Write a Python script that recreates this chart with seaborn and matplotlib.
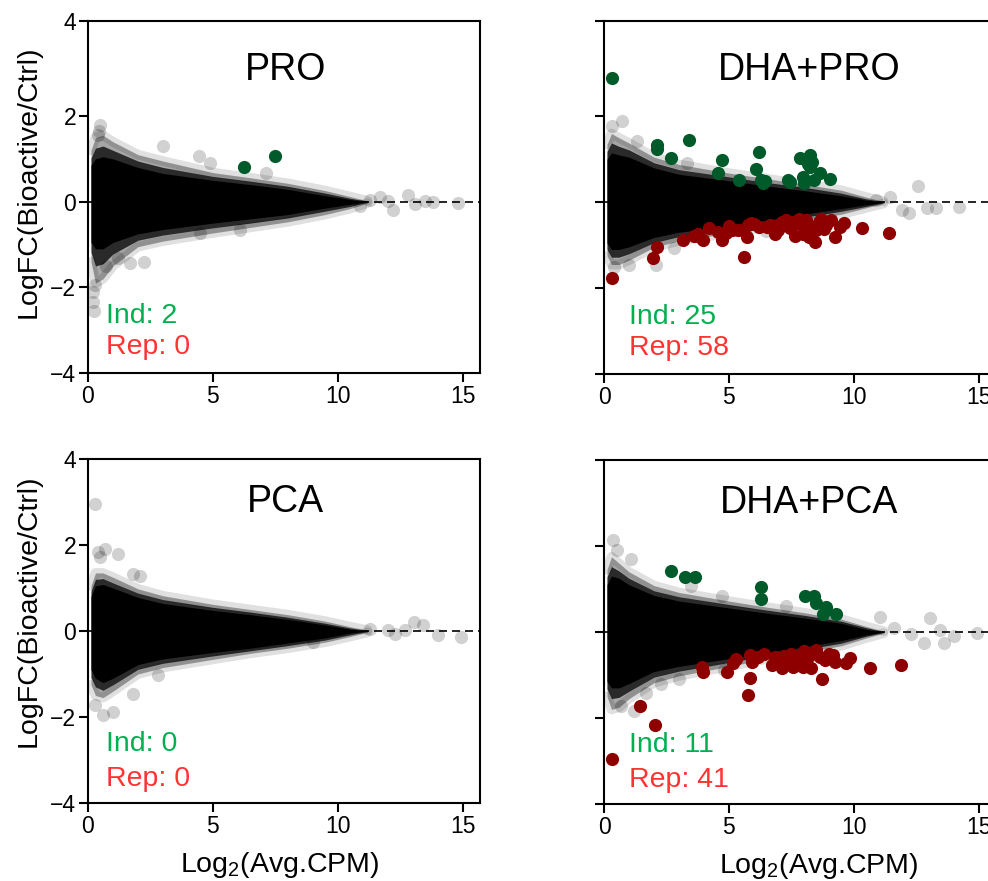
import matplotlib

matplotlib.use("Agg")
import matplotlib.pyplot as plt  # noqa: E402
import matplotlib.transforms as mtransforms  # noqa: E402
import pandas as pd  # noqa: E402
import seaborn as sns  # noqa: E402

# ---- values ---------------------------------------------------------------
PANELS = ["PRO", "DHA+PRO", "PCA", "DHA+PCA"]
IND_COUNTS = [2, 25, 0, 11]
REP_COUNTS = [0, 58, 0, 41]

# outline of the dense gene cloud (edge = faint fringe, mid = dark grey, core = solid)
CLOUD_X = [0.12, 0.3, 0.6, 1.0, 2.0, 3.0, 5.0, 6.5, 8.0, 9.5, 10.5, 11.2]

PRO_EDGE_TOP = [1.2, 1.5, 1.55, 1.4, 1.1, 0.95, 0.68, 0.56, 0.43, 0.26, 0.12, 0.02]
PRO_EDGE_BOT = [-1.4, -1.9, -1.8, -1.5, -1.05, -0.92, -0.73, -0.6, -0.47, -0.3, -0.16, -0.03]
PRO_MID_TOP = [1.02, 1.25, 1.3, 1.2, 0.95, 0.8, 0.59, 0.48, 0.36, 0.2, 0.08, 0.01]
PRO_MID_BOT = [-1.18, -1.5, -1.45, -1.22, -0.9, -0.78, -0.61, -0.5, -0.38, -0.22, -0.11, -0.01]
PRO_CORE_TOP = [0.85, 1.0, 1.05, 1.0, 0.8, 0.66, 0.5, 0.4, 0.29, 0.14, 0.05, 0.0]
PRO_CORE_BOT = [-0.95, -1.1, -1.1, -0.95, -0.75, -0.65, -0.5, -0.4, -0.3, -0.15, -0.06, 0.0]

DPRO_EDGE_TOP = [1.35, 1.6, 1.5, 1.38, 1.05, 0.88, 0.68, 0.55, 0.42, 0.28, 0.12, 0.02]
DPRO_EDGE_BOT = [-1.25, -1.45, -1.45, -1.35, -1.05, -0.9, -0.72, -0.58, -0.42, -0.28, -0.13, -0.03]
DPRO_MID_TOP = [1.18, 1.38, 1.3, 1.22, 0.92, 0.76, 0.59, 0.46, 0.35, 0.21, 0.08, 0.01]
DPRO_MID_BOT = [-1.1, -1.28, -1.28, -1.2, -0.94, -0.8, -0.63, -0.5, -0.35, -0.21, -0.1, -0.01]
DPRO_CORE_TOP = [1.0, 1.15, 1.1, 1.05, 0.8, 0.65, 0.5, 0.38, 0.27, 0.15, 0.05, 0.0]
DPRO_CORE_BOT = [-0.95, -1.1, -1.1, -1.04, -0.82, -0.7, -0.55, -0.42, -0.28, -0.15, -0.06, 0.0]

PCA_EDGE_TOP = [1.05, 1.35, 1.35, 1.25, 0.98, 0.82, 0.62, 0.5, 0.38, 0.23, 0.1, 0.02]
PCA_EDGE_BOT = [-1.25, -1.5, -1.55, -1.4, -1.0, -0.85, -0.66, -0.52, -0.4, -0.26, -0.13, -0.03]
PCA_MID_TOP = [0.92, 1.2, 1.22, 1.12, 0.88, 0.73, 0.55, 0.44, 0.32, 0.18, 0.07, 0.01]
PCA_MID_BOT = [-1.08, -1.3, -1.38, -1.25, -0.89, -0.75, -0.58, -0.46, -0.34, -0.21, -0.09, -0.01]
PCA_CORE_TOP = [0.8, 1.05, 1.08, 1.0, 0.78, 0.64, 0.48, 0.38, 0.27, 0.14, 0.04, 0.0]
PCA_CORE_BOT = [-0.9, -1.1, -1.2, -1.1, -0.78, -0.65, -0.5, -0.4, -0.28, -0.16, -0.05, 0.0]

DPCA_EDGE_TOP = [1.45, 1.75, 1.6, 1.4, 1.08, 0.92, 0.72, 0.58, 0.45, 0.3, 0.13, 0.02]
DPCA_EDGE_BOT = [-1.5, -1.8, -1.75, -1.55, -1.18, -1.02, -0.8, -0.63, -0.48, -0.32, -0.14, -0.03]
DPCA_MID_TOP = [1.28, 1.52, 1.42, 1.25, 0.96, 0.82, 0.64, 0.51, 0.39, 0.25, 0.1, 0.01]
DPCA_MID_BOT = [-1.32, -1.55, -1.52, -1.38, -1.05, -0.91, -0.71, -0.55, -0.41, -0.26, -0.1, -0.01]
DPCA_CORE_TOP = [1.1, 1.3, 1.25, 1.1, 0.85, 0.72, 0.56, 0.44, 0.33, 0.2, 0.06, 0.0]
DPCA_CORE_BOT = [-1.15, -1.3, -1.3, -1.2, -0.92, -0.8, -0.62, -0.48, -0.35, -0.2, -0.07, 0.0]

# scattered grey genes outside the cloud
PRO_GREY_X = [0.4, 0.45, 0.5, 3.0, 4.43, 4.87, 7.13, 6.07, 1.2, 1.67, 2.23, 0.73, 0.2, 0.22, 0.25,
              0.3, 4.47, 10.9, 11.3, 11.7, 12.0, 12.2, 12.8, 13.1, 13.5, 13.8, 14.8]
PRO_GREY_Y = [1.55, 1.65, 1.78, 1.31, 1.06, 0.9, 0.67, -0.65, -1.32, -1.43, -1.41, -1.51, -2.1, -2.35,
              -2.55, -1.95, -0.73, -0.11, 0.05, 0.12, 0.02, -0.19, 0.16, -0.05, 0.02, 0.0, -0.03]
DPRO_GREY_X = [0.73, 0.33, 1.31, 3.33, 2.8, 1.0, 2.07, 0.4, 6.47, 11.47, 11.93, 12.2, 12.56,
               12.93, 13.3, 14.2, 10.9]
DPRO_GREY_Y = [1.88, 1.77, 1.42, 0.91, -1.07, -1.46, -1.46, -1.5, -0.68, 0.13, -0.19, -0.24, 0.38,
               -0.14, -0.14, -0.1, 0.05]
PCA_GREY_X = [0.27, 0.47, 0.4, 0.67, 1.2, 1.8, 2.07, 2.8, 1.8, 0.6, 1.0, 0.27, 9.0, 12.0, 12.3,
              12.7, 13.07, 13.4, 14.0, 14.93, 11.3]
PCA_GREY_Y = [2.96, 1.72, 1.84, 1.91, 1.8, 1.33, 1.29, -1.03, -1.46, -1.96, -1.88, -1.73, -0.26,
              0.02, -0.08, 0.02, 0.22, 0.13, -0.1, -0.14, 0.05]
DPCA_GREY_X = [0.37, 0.53, 1.09, 3.47, 4.73, 7.27, 11.07, 13.07, 13.47, 13.6, 12.8, 14.93, 14.0,
               0.67, 1.2, 1.67, 2.27, 3.0, 4.8, 11.6, 12.3]
DPCA_GREY_Y = [2.15, 1.91, 1.7, 1.06, 0.84, 0.6, 0.36, 0.33, 0.05, -0.26, -0.26, -0.02, -0.1,
               -1.73, -1.84, -1.42, -1.22, -1.1, -0.88, 0.1, -0.05]

# induced (green) and repressed (red) genes
PRO_IND_X = [6.24, 7.48]
PRO_IND_Y = [0.80, 1.06]
PRO_REP_X = []
PRO_REP_Y = []

DPRO_IND_X = [0.33, 2.11, 2.13, 2.67, 3.40, 4.73, 4.57, 5.40, 6.20, 6.08, 6.28, 6.44, 7.37, 7.44,
              7.84, 8.24, 8.17, 8.35, 7.97, 8.40, 8.67, 9.04, 8.24, 8.00, 6.35]
DPRO_IND_Y = [2.89, 1.33, 1.23, 1.03, 1.46, 0.99, 0.67, 0.51, 1.17, 0.78, 0.51, 0.50, 0.51, 0.47,
              1.02, 1.10, 0.90, 0.94, 0.59, 0.51, 0.67, 0.55, 0.82, 0.45, 0.45]
DPRO_REP_X = [0.33, 1.97, 2.13, 3.16, 3.84, 3.77, 3.97, 4.57, 4.73, 5.11, 5.37, 5.57, 5.71, 5.77,
              5.60, 6.64, 6.84, 7.11, 7.44, 7.64, 7.57, 7.97, 8.11, 8.31, 8.44, 8.51, 8.71, 8.91,
              9.24, 9.44, 10.35, 11.40, 6.51, 6.97, 7.84, 8.20, 4.20, 5.00, 6.00, 7.30, 7.80,
              8.60, 9.10, 6.20, 5.90, 4.90, 7.00, 8.80, 3.60, 9.60]
DPRO_REP_Y = [-1.77, -1.31, -1.05, -0.89, -0.81, -0.73, -0.89, -0.69, -0.89, -0.64, -0.65, -0.64,
              -0.81, -0.54, -1.27, -0.54, -0.73, -0.46, -0.61, -0.79, -0.46, -0.73, -0.42, -0.58,
              -0.93, -0.65, -0.38, -0.54, -0.81, -0.58, -0.61, -0.72, -0.58, -0.65, -0.50, -0.81,
              -0.60, -0.55, -0.50, -0.42, -0.38, -0.45, -0.42, -0.57, -0.48, -0.72, -0.52, -0.62,
              -0.78, -0.48]

PCA_IND_X = []
PCA_IND_Y = []
PCA_REP_X = []
PCA_REP_Y = []

DPCA_IND_X = [2.69, 3.23, 3.65, 6.29, 6.27, 8.05, 8.43, 8.51, 8.91, 8.77, 9.31]
DPCA_IND_Y = [1.43, 1.28, 1.29, 1.04, 0.77, 0.83, 0.84, 0.67, 0.57, 0.43, 0.42]
DPCA_REP_X = [0.33, 1.43, 2.05, 3.91, 3.97, 4.93, 5.15, 5.84, 5.77, 5.91, 6.17, 5.84, 6.71, 6.84,
              7.11, 7.37, 7.57, 7.91, 7.97, 8.04, 8.31, 8.48, 8.64, 8.75, 8.84, 9.17, 9.24, 9.71,
              9.84, 10.64, 11.89, 7.71, 6.97, 6.40, 7.20, 7.50, 8.20, 9.00, 6.00, 5.30, 8.00]
DPCA_REP_Y = [-2.95, -1.73, -2.16, -0.81, -0.92, -0.92, -0.71, -1.08, -1.47, -0.69, -0.57, -0.53,
              -0.77, -0.57, -0.84, -0.69, -0.81, -0.53, -0.81, -0.65, -0.84, -0.42, -0.57, -1.09,
              -0.65, -0.53, -0.69, -0.73, -0.61, -0.84, -0.76, -0.61, -0.65, -0.50, -0.55, -0.50,
              -0.55, -0.50, -0.60, -0.62, -0.45]

CLOUDS = {
    "PRO": (PRO_EDGE_TOP, PRO_EDGE_BOT, PRO_MID_TOP, PRO_MID_BOT, PRO_CORE_TOP, PRO_CORE_BOT),
    "DHA+PRO": (DPRO_EDGE_TOP, DPRO_EDGE_BOT, DPRO_MID_TOP, DPRO_MID_BOT, DPRO_CORE_TOP, DPRO_CORE_BOT),
    "PCA": (PCA_EDGE_TOP, PCA_EDGE_BOT, PCA_MID_TOP, PCA_MID_BOT, PCA_CORE_TOP, PCA_CORE_BOT),
    "DHA+PCA": (DPCA_EDGE_TOP, DPCA_EDGE_BOT, DPCA_MID_TOP, DPCA_MID_BOT, DPCA_CORE_TOP, DPCA_CORE_BOT),
}
POINTS = {
    "PRO": ((PRO_GREY_X, PRO_GREY_Y), (PRO_IND_X, PRO_IND_Y), (PRO_REP_X, PRO_REP_Y)),
    "DHA+PRO": ((DPRO_GREY_X, DPRO_GREY_Y), (DPRO_IND_X, DPRO_IND_Y), (DPRO_REP_X, DPRO_REP_Y)),
    "PCA": ((PCA_GREY_X, PCA_GREY_Y), (PCA_IND_X, PCA_IND_Y), (PCA_REP_X, PCA_REP_Y)),
    "DHA+PCA": ((DPCA_GREY_X, DPCA_GREY_Y), (DPCA_IND_X, DPCA_IND_Y), (DPCA_REP_X, DPCA_REP_Y)),
}

IND_DOT = "#005a2a"
REP_DOT = "#8e0000"
IND_TXT = "#00b050"
REP_TXT = "#ff3333"

sns.set_theme(style="ticks")
plt.rcParams["font.family"] = ["Liberation Sans", "DejaVu Sans"]
plt.rcParams["mathtext.default"] = "regular"
plt.rcParams["axes.linewidth"] = 1.5
for key in ("text.color", "axes.labelcolor", "xtick.color", "ytick.color", "axes.edgecolor"):
    plt.rcParams[key] = "black"

fig = plt.figure(figsize=(9.88, 8.81), dpi=100)
W, H = 988, 881
# panel boxes in pixels: left, top, bottom (width 392 px each)
BOXES = {
    "PRO": (88, 21, 373),
    "DHA+PRO": (604, 21, 374),
    "PCA": (88, 459, 803),
    "DHA+PCA": (604, 460, 804),
}


def draw_panel(name, ax, top_row, left_col):
    et, eb, mt, mb, ct, cb = CLOUDS[name]
    for arr in (et, eb):
        ax.plot(CLOUD_X, arr, color="black", alpha=0.12, lw=7, solid_capstyle="round", zorder=1)
    ax.fill_between(CLOUD_X, eb, et, color="black", alpha=0.35, lw=0, zorder=1)
    ax.fill_between(CLOUD_X, mb, mt, color="black", alpha=0.75, lw=0, zorder=1.1)
    ax.fill_between(CLOUD_X, cb, ct, color="black", lw=0, zorder=1.2)

    (gx, gy), (ix, iy), (rx, ry) = POINTS[name]
    sns.scatterplot(data=pd.DataFrame({"x": gx, "y": gy}), x="x", y="y", ax=ax, color="black",
                    alpha=0.18, s=90, linewidth=0, zorder=1.3, legend=False)
    ax.axhline(0, color="black", lw=1.2, dashes=(4.8, 3), zorder=1.5)
    if ix:
        sns.scatterplot(data=pd.DataFrame({"x": ix, "y": iy}), x="x", y="y", ax=ax, color=IND_DOT,
                        s=90, linewidth=0, zorder=3, legend=False)
    if rx:
        sns.scatterplot(data=pd.DataFrame({"x": rx, "y": ry}), x="x", y="y", ax=ax, color=REP_DOT,
                        s=90, linewidth=0, zorder=3, legend=False)

    ax.set_xlim(0, 15.7)
    ax.set_xticks([0, 5, 10, 15])
    if top_row:
        ax.set_ylim(-4, 4.22)
        ax.set_yticks([-4, -2, 0, 2, 4.22])
        ax.set_yticklabels(["\u22124", "\u22122", "0", "2", "4"])
        shift = mtransforms.ScaledTranslation(0, -9 / 100, fig.dpi_scale_trans)
        ax.get_yticklabels()[-1].set_transform(ax.get_yticklabels()[-1].get_transform() + shift)
    else:
        ax.set_ylim(-4, 4)
        ax.set_yticks([-4, -2, 0, 2, 4])
    ax.tick_params(direction="out", length=6.5, width=1.5, labelsize=16.5, pad=2, color="black")
    if not left_col:
        ax.tick_params(labelleft=False)
    for sp in ax.spines.values():
        sp.set_visible(True)
        sp.set_color("black")
        sp.set_linewidth(1.5)
    ax.set_xlabel("")
    ax.set_ylabel("")

    title_y = 0.832 if top_row else 0.847
    title_x = 0.503 if left_col else 0.523
    ax.text(title_x, title_y, name, transform=ax.transAxes, ha="center", va="baseline", fontsize=27)
    tx = 0.045 if left_col else 0.065
    iy0, ry0 = (0.142, 0.054) if top_row else (0.15, 0.048)
    ax.text(tx, iy0, f"Ind: {IND_COUNTS[PANELS.index(name)]}", transform=ax.transAxes,
            color=IND_TXT, fontsize=20.5, va="baseline")
    ax.text(tx, ry0, f"Rep: {REP_COUNTS[PANELS.index(name)]}", transform=ax.transAxes,
            color=REP_TXT, fontsize=20.5, va="baseline")

    if left_col:
        ax.set_ylabel("LogFC(Bioactive/Ctrl)", fontsize=20.5)
        ax.yaxis.set_label_coords(-0.118, 0.543 if top_row else 0.558)
    if not top_row:
        ax.set_xlabel("Log$_2$(Avg.CPM)", fontsize=20.5)
        ax.xaxis.set_label_coords(0.49 if left_col else 0.548, -0.138)


for i, name in enumerate(PANELS):
    left, top, bottom = BOXES[name]
    ax = fig.add_axes([left / W, 1 - bottom / H, 392 / W, (bottom - top) / H])
    ax.set_facecolor("white")
    draw_panel(name, ax, top_row=i < 2, left_col=i % 2 == 0)

fig.savefig("out.png", dpi=100, facecolor="white")
